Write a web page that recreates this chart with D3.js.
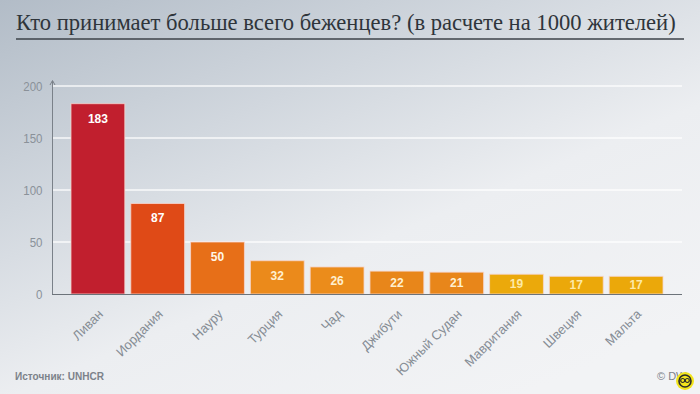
<!DOCTYPE html>
<html><head><meta charset="utf-8">
<script src="https://cdn.jsdelivr.net/npm/d3@7"></script>
<style>html,body{margin:0;padding:0;overflow:hidden;}svg{display:block;}</style>
</head><body>
<script>
const titleText = "Кто принимает больше всего беженцев? (в расчете на 1000 жителей)";
const countries = ["Ливан","Иордания","Науру","Турция","Чад","Джибути","Южный Судан","Мавритания","Швеция","Мальта"];
const values = [183, 87, 50, 32, 26, 22, 21, 19, 17, 17];
const barColors = ["#c11f2e","#df4a17","#e76f18","#eb8a1b","#eb8c1b","#e8861a","#e8861a","#eba90b","#eba80a","#eba80a"];
const labelColors = ["#ffffff","#ffffff","#fff6e8","#fff0d0","#fff0d0","#fff0d0","#fff0d0","#fde9a8","#fde9a8","#fde9a8"];
const yTicks = [0, 50, 100, 150, 200];
const sourceText = "Источник: UNHCR";
const creditText = "© DW";

const W = 700, H = 394;
const svg = d3.select("body").append("svg").attr("width", W).attr("height", H);
const defs = svg.append("defs");
const bg = defs.append("linearGradient").attr("id","bg").attr("x1","0").attr("y1","0").attr("x2","0.75").attr("y2","1");
bg.append("stop").attr("offset","0").attr("stop-color","#b2bcc7");
bg.append("stop").attr("offset","0.35").attr("stop-color","#d1d7de");
bg.append("stop").attr("offset","0.65").attr("stop-color","#eceef1");
bg.append("stop").attr("offset","1").attr("stop-color","#f2f3f5");
svg.append("rect").attr("width",W).attr("height",H).attr("fill","url(#bg)");

// title
const title = svg.append("text").attr("x",16).attr("y",30)
  .attr("font-family","'Liberation Serif','DejaVu Serif',serif")
  .attr("font-size",20).attr("fill","#2f353b").text(titleText);
const tl = title.node().getComputedTextLength();
title.attr("font-size", 20 * 660 / tl);
svg.append("line").attr("x1",16).attr("x2",684).attr("y1",39).attr("y2",39)
  .attr("stroke","#3c4248").attr("stroke-width",1.5);

const x = d3.scaleBand().domain(countries).range([68,666]).paddingInner(0.1).paddingOuter(0.05);
const y = d3.scaleLinear().domain([0,200]).range([294,86]);

// gridlines
svg.append("g").selectAll("line").data(yTicks.filter(d=>d>0)).join("line")
  .attr("x1",53).attr("x2",682).attr("y1",d=>y(d)).attr("y2",d=>y(d))
  .attr("stroke","#ffffff").attr("stroke-opacity",0.85).attr("stroke-width",1.5);

// y axis
const yAxis = d3.axisLeft(y).tickValues(yTicks).tickSize(0).tickPadding(10);
const ga = svg.append("g").attr("transform","translate(52.5,0)").call(yAxis);
ga.select(".domain").remove();
ga.selectAll("text").attr("font-family","'Liberation Sans Narrow','Liberation Sans',Arial,sans-serif")
  .attr("font-size",13).attr("fill","#8a9199").attr("dy","0.35em")
  .attr("lengthAdjust","spacingAndGlyphs")
  .each(function(d){ const s=String(d).length; d3.select(this).attr("textLength", s*6.4); });
svg.append("line").attr("x1",52.5).attr("x2",52.5).attr("y1",81).attr("y2",294.5).attr("stroke","#7a8189").attr("stroke-width",1);
svg.append("path").attr("d","M50,85 L52.5,80.5 L55,85").attr("fill","none").attr("stroke","#7a8189").attr("stroke-width",1);

// bars
svg.append("g").selectAll("rect").data(values).join("rect")
  .attr("x",(d,i)=>x(countries[i])).attr("width",x.bandwidth())
  .attr("y",d=>y(d)).attr("height",d=>y(0)-y(d))
  .attr("fill",(d,i)=>barColors[i])
  .attr("stroke","#f6d6cf").attr("stroke-opacity",0.8).attr("stroke-width",1);

// baseline
svg.append("line").attr("x1",52).attr("x2",682).attr("y1",294.5).attr("y2",294.5).attr("stroke","#6c737a").attr("stroke-width",1);

// value labels
svg.append("g").selectAll("text").data(values).join("text")
  .attr("x",(d,i)=>x(countries[i])+x.bandwidth()/2)
  .attr("y",d=>Math.min(y(d)+14.5,(y(d)+y(0))/2))
  .attr("dy","0.36em").attr("text-anchor","middle")
  .attr("font-family","'Liberation Sans',Arial,sans-serif").attr("font-weight","bold")
  .attr("font-size",12).attr("fill",(d,i)=>labelColors[i]).text(d=>d);

// x labels
svg.append("g").selectAll("text").data(countries).join("text")
  .attr("transform",d=>`translate(${x(d)+x.bandwidth()/2+6},${315}) rotate(-45)`)
  .attr("text-anchor","end")
  .attr("font-family","'Liberation Sans',Arial,sans-serif")
  .attr("font-size",13).attr("fill","#858c94").text(d=>d);

// footer
svg.append("text").attr("x",15).attr("y",380)
  .attr("font-family","'Liberation Sans',Arial,sans-serif").attr("font-weight","bold")
  .attr("font-size",11).attr("fill","#7c828a")
  .attr("textLength",89).attr("lengthAdjust","spacingAndGlyphs").text(sourceText);
svg.append("text").attr("x",657).attr("y",380)
  .attr("font-family","'Liberation Sans',Arial,sans-serif")
  .attr("font-size",11).attr("fill","#7c828a").text(creditText);
const logo = svg.append("g").attr("transform","translate(685,381)");
logo.append("circle").attr("r",9).attr("fill","#f2e41c");
logo.append("circle").attr("r",6).attr("fill","none").attr("stroke","#2a2a2a").attr("stroke-width",1.6);
logo.append("circle").attr("cx",-2.3).attr("cy",-0.5).attr("r",2).attr("fill","none").attr("stroke","#2a2a2a").attr("stroke-width",1.2);
logo.append("circle").attr("cx",2.3).attr("cy",-0.5).attr("r",2).attr("fill","none").attr("stroke","#2a2a2a").attr("stroke-width",1.2);
</script>
</body></html>
